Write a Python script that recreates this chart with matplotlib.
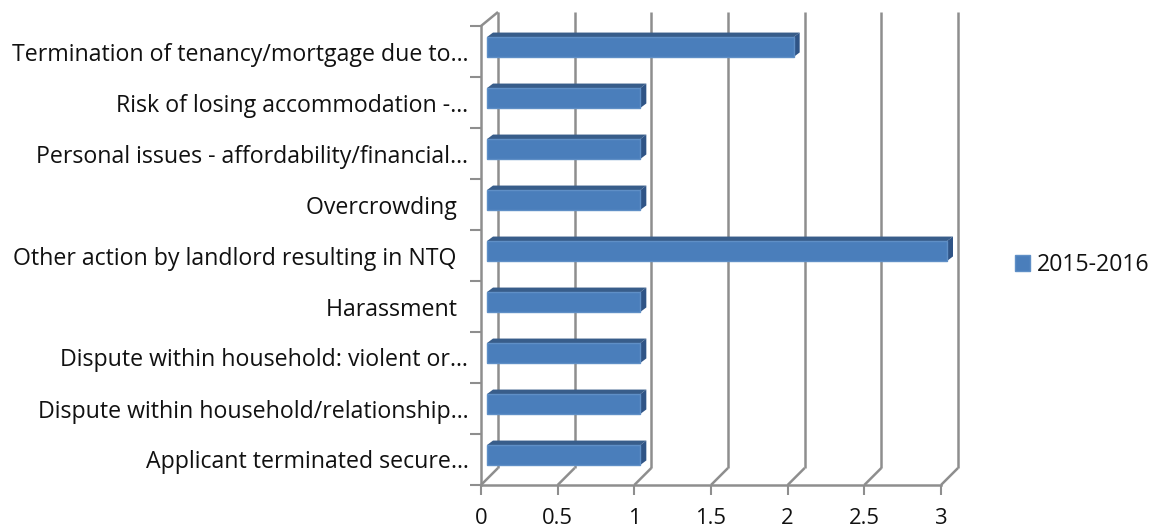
import matplotlib
matplotlib.use("Agg")
import matplotlib.pyplot as plt
from matplotlib.patches import Polygon
from matplotlib.transforms import Affine2D, IdentityTransform

plt.rcParams['font.family'] = ['Open Sans', 'DejaVu Sans']

categories = [
    "Applicant terminated secure…",
    "Dispute within household/relationship…",
    "Dispute within household: violent or…",
    "Harassment\u00a0\u00a0",
    "Other action by landlord resulting in NTQ\u00a0\u00a0",
    "Overcrowding\u00a0\u00a0",
    "Personal issues - affordability/financial…",
    "Risk of losing accommodation -…",
    "Termination of tenancy/mortgage due to…",
]
values = [1, 1, 1, 1, 3, 1, 1, 1, 2]
series_name = "2015-2016"
x_ticks = [0, 0.5, 1, 1.5, 2, 2.5, 3]
x_labels = ["0", "0.5", "1", "1.5", "2", "2.5", "3"]

W, H = 1158, 528
GRID = "#8e8e8e"
FRONT = "#4a7ebb"
TOP = "#385d8a"
SIDE = "#2f5486"
EDGE = "#5f8fc6"
FS = 16.7
FS_X = 15.8

# plot-frame geometry in pixels; depth is drawn by shifting in screen space
L, R, B, T = 481, 941, 485, 26
WALL_DX, WALL_DY = 17, 17
WALL_TOP_DY = 14
BAR_DX1, BAR_DY1 = 6, 4.5
BAR_DX2, BAR_DY2 = 12, 9
BAR_H = 0.39

fig = plt.figure(figsize=(W / 100, H / 100), dpi=100, facecolor="white")
ax = fig.add_axes([L / W, 1 - B / H, (R - L) / W, (B - T) / H])
ax.set_xlim(0, 3)
ax.set_ylim(-0.5, len(categories) - 0.5)
ax.patch.set_alpha(0)
for s in ("top", "right"):
    ax.spines[s].set_visible(False)
for s in ("left", "bottom"):
    ax.spines[s].set_color(GRID)
    ax.spines[s].set_linewidth(1.8)

ax.set_xticks(x_ticks)
ax.set_xticklabels(x_labels, fontsize=FS_X)
ax.set_yticks(range(len(categories)))
ax.set_yticklabels(categories, fontsize=FS)
ax.set_yticks([i - 0.5 for i in range(len(categories) + 1)], minor=True)
ax.tick_params(axis="y", which="major", length=0, pad=9, colors="#111111")
ax.tick_params(axis="y", which="minor", length=8, width=1.5, color=GRID)
ax.tick_params(axis="x", length=7, width=1.5, color=GRID, pad=9.2, labelcolor="#111111")

def px(x, y, dx=0, dy=0):
    """Data point to screen pixels, shifted by depth (dy measured upward)."""
    a, b = ax.transData.transform((x, y))
    return (a + dx, b + dy)

def shift(dx, dy):
    return ax.transData + Affine2D().translate(dx, dy)

def poly(points, color, z, edge=None, lw=0.0):
    ax.add_patch(Polygon(points, closed=True, facecolor=color,
                         edgecolor=edge if edge else color, linewidth=lw,
                         transform=IdentityTransform(), clip_on=False, zorder=z))

def seg(p, q, lw=1.8, z=1):
    ax.plot([p[0], q[0]], [p[1], q[1]], color=GRID, lw=lw, solid_capstyle="butt",
            transform=IdentityTransform(), clip_on=False, zorder=z)

y0, y1 = ax.get_ylim()

# back wall gridlines and floor diagonals
for t in x_ticks:
    seg(px(t, y0), px(t, y0, WALL_DX, WALL_DY))
    seg(px(t, y0, WALL_DX, WALL_DY), px(t, y1, WALL_DX, WALL_TOP_DY))
seg(px(0, y1), px(0, y1, WALL_DX, WALL_TOP_DY))

# bars: top and side faces behind a front face
for i, v in enumerate(values):
    yb, yt = i - BAR_H / 2, i + BAR_H / 2
    poly([px(0, yt, BAR_DX1, BAR_DY1), px(v, yt, BAR_DX1, BAR_DY1),
          px(v, yt, BAR_DX2, BAR_DY2), px(0, yt, BAR_DX2, BAR_DY2)], TOP, 3)
    poly([px(v, yb, BAR_DX1, BAR_DY1), px(v, yt, BAR_DX1, BAR_DY1),
          px(v, yt, BAR_DX2, BAR_DY2), px(v, yb, BAR_DX2, BAR_DY2)], SIDE, 3)

ax.barh(range(len(values)), values, height=BAR_H, color=FRONT, edgecolor=EDGE,
        linewidth=1.0, transform=shift(BAR_DX1, BAR_DY1), clip_on=False,
        zorder=4, label=series_name)
ax.set_xlim(0, 3)
ax.set_ylim(y0, y1)

fig.legend(loc="center left", bbox_to_anchor=(1015 / W, 1 - 265 / H), frameon=False,
           fontsize=FS, handlelength=0.65, handleheight=0.65, handletextpad=0.3,
           borderpad=0, borderaxespad=0, labelcolor="#111111")

fig.savefig("out.png", dpi=100, facecolor="white")
